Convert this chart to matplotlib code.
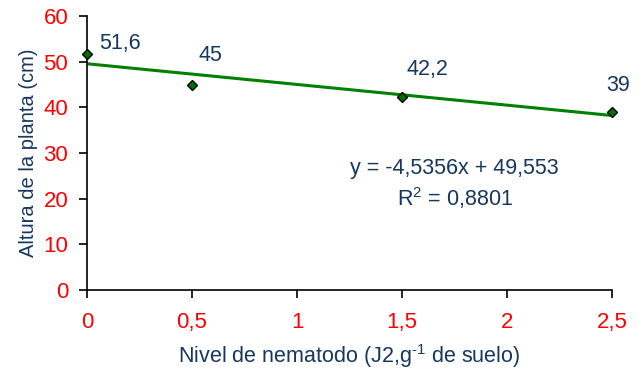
import numpy as np
import matplotlib.pyplot as plt

plt.rcParams['font.family'] = ['Liberation Sans', 'DejaVu Sans']
plt.rcParams['mathtext.fontset'] = 'custom'
plt.rcParams['mathtext.rm'] = 'Liberation Sans'

# Nematode level vs plant height
nivel = [0, 0.5, 1.5, 2.5]
altura = [51.6, 45, 42.2, 39]
etiquetas = ['51,6', '45', '42,2', '39']

# Linear trendline coefficients
pendiente = -4.5356
intercepto = 49.553
r2 = 0.8801

x_ticks = [0, 0.5, 1, 1.5, 2, 2.5]
x_ticklabels = ['0', '0,5', '1', '1,5', '2', '2,5']
y_ticks = [0, 10, 20, 30, 40, 50, 60]

azul = '#17375E'
rojo = '#FF0000'

fig = plt.figure(figsize=(6.39, 3.73), dpi=100)
ax = fig.add_axes([0.136, 0.2225, 0.822, 0.7345])

xs = np.array([0, 2.5])
ax.plot(xs, pendiente * xs + intercepto, color='#008000', lw=2.2, zorder=2)
ax.plot(nivel, altura, linestyle='none', marker='D', markersize=5,
        markerfacecolor='#007000', markeredgecolor='black', markeredgewidth=1,
        zorder=3, clip_on=False)

offsets = [(24, 8), (13, 21), (18, 20), (4, 19)]
for xv, yv, txt, off in zip(nivel, altura, etiquetas, offsets):
    ax.annotate(txt, (xv, yv), xytext=off, textcoords='offset points',
                ha='center', va='center', fontsize=15.5, color=azul)

ax.text(1.75, 26.7, 'y = -4,5356x + 49,553', ha='center', va='center',
        fontsize=15.5, color=azul)
ax.text(1.75, 20.1, 'R$^{\\text{2}}$ = 0,8801', ha='center', va='center',
        fontsize=15.5, color=azul)

ax.set_xlim(0, 2.5)
ax.set_ylim(0, 60)
ax.set_xticks(x_ticks)
ax.set_xticklabels(x_ticklabels)
ax.set_yticks(y_ticks)
ax.tick_params(axis='x', colors='black', labelcolor=rojo, labelsize=16,
               length=5.5, width=1.2, pad=10, direction='out')
ax.tick_params(axis='y', colors='black', labelcolor=rojo, labelsize=16,
               length=5.5, width=1.2, pad=8, direction='out')

for s in ['top', 'right']:
    ax.spines[s].set_visible(False)
for s in ['left', 'bottom']:
    ax.spines[s].set_linewidth(1.2)

ax.set_xlabel('Nivel de nematodo (J2,g$^{\\text{-1}}$ de suelo)', fontsize=15.5,
              color=azul, labelpad=7)
ax.set_ylabel('Altura de la planta (cm)', fontsize=14.5, color=azul, labelpad=4)

fig.savefig('out.png', dpi=100)
